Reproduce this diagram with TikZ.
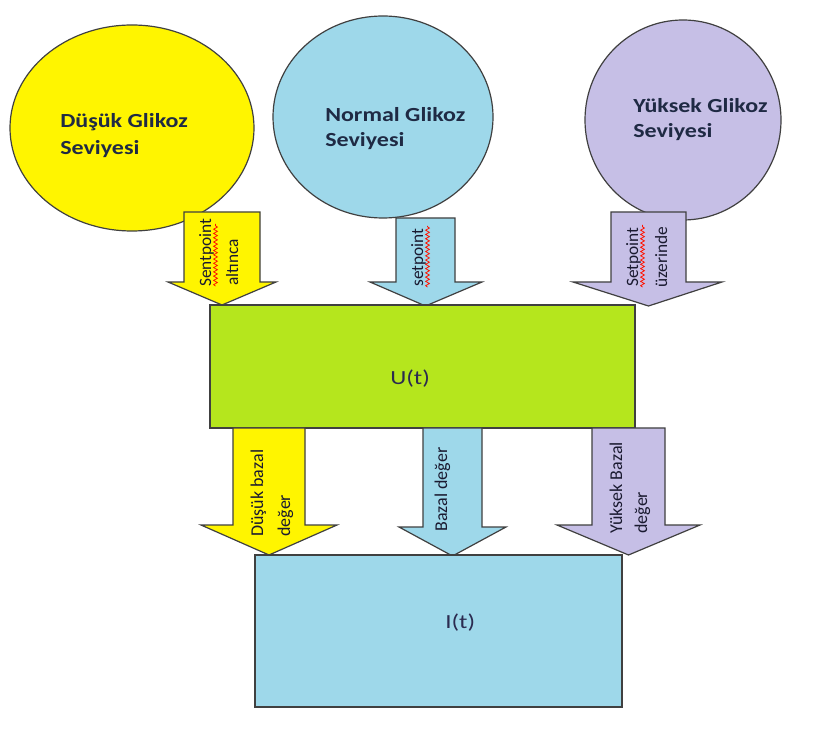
\documentclass[tikz,border=0pt]{standalone}
\usepackage{fontspec}
\usepackage{graphicx}
\setmainfont{Carlito}
\usetikzlibrary{decorations.pathmorphing}
\definecolor{cyel}{HTML}{FFF500}
\definecolor{cblue}{HTML}{9ED8EA}
\definecolor{clav}{HTML}{C6BFE6}
\definecolor{cgreen}{HTML}{B5E61D}
\definecolor{cline}{HTML}{404040}
\definecolor{ctxt}{HTML}{1F2A44}
\definecolor{atxt}{HTML}{1A1A30}
\definecolor{btxt}{HTML}{2B2B50}
\newcommand\blkarrow[8]{%
  \filldraw[blk, fill=#1] (#2,#4) -- (#3,#4) -- (#3,#5) -- (#7,#5) -- ({(#2+#3)/2},#8) -- (#6,#5) -- (#2,#5) -- cycle;}
\begin{document}
\begin{tikzpicture}[x=0.75pt, y=-0.75pt,
  blk/.style={draw=cline, line width=0.9pt, line join=miter},
  ctext/.style={font=\fontsize{15}{18}\selectfont\bfseries, text=ctxt, inner sep=0pt, anchor=base west},
  atext/.style={font=\fontsize{13}{15}\selectfont, text=atxt, inner sep=0pt, anchor=base west, rotate=90},
  abtext/.style={atext, font=\fontsize{13.5}{15}\selectfont},
  btext/.style={font=\fontsize{15}{18}\selectfont, text=btxt, inner sep=0pt, anchor=base west},
  squig/.style={draw=red!85!orange, line width=0.6pt, decorate, decoration={snake, amplitude=1.4pt, segment length=3.2pt}}]
\useasboundingbox (0,0) rectangle (817,737);
\fill[white] (0,0) rectangle (817,737);
% glucose level ellipses
\filldraw[blk, fill=cyel] (132,128) ellipse [x radius=122, y radius=103];
\filldraw[blk, fill=cblue] (383,117) ellipse [x radius=110, y radius=101];
\filldraw[blk, fill=clav] (683,120) ellipse [x radius=98, y radius=100];
% top arrows
\blkarrow{cyel}{184}{260}{212}{282}{168}{276}{305}
\blkarrow{cblue}{396}{455}{218}{282}{370}{482}{306}
\blkarrow{clav}{611}{686}{212}{282}{573}{722}{306}
% U(t) box
\filldraw[blk, fill=cgreen] (210,305) rectangle (635,428);
% bottom arrows
\blkarrow{cyel}{233}{305}{428}{525}{201}{337}{555}
\blkarrow{cblue}{423}{482}{428}{527}{399}{506}{556}
\blkarrow{clav}{592}{665}{428}{525}{557}{700}{555}
% I(t) box
\filldraw[blk, fill=cblue] (255,555) rectangle (622,707);
% circle texts
\node[ctext] (d1) at (60,128) {\scalebox{1.2}[1]{Düşük Glikoz}};
\node[ctext] (d2) at (60,155) {\scalebox{1.2}[1]{Seviyesi}};
\node[ctext] (n1) at (325,122) {\scalebox{1.2}[1]{Normal Glikoz}};
\node[ctext] (n2) at (325,147) {\scalebox{1.2}[1]{Seviyesi}};
\node[ctext] (y1) at (633,113) {\scalebox{1.2}[1]{Yüksek Glikoz}};
\node[ctext] (y2) at (633,138) {\scalebox{1.2}[1]{Seviyesi}};
% top arrow texts
\node[atext] (a1) at (211,287) {Sentpoint};
\node[atext] (a2) at (238,286) {altınca};
\node[atext] (a3) at (423,287) {setpoint};
\node[atext] (a4) at (638,287) {Setpoint};
\node[atext] (a5) at (667,288) {üzerinde};
% spelling squiggles
\draw[squig] (215.5,286) -- (215.5,224);
\draw[squig] (427.5,287) -- (427.5,226);
\draw[squig] (642.5,287) -- (642.5,225);
% bottom arrow texts
\node[abtext] (b1) at (263,537) {Düşük bazal};
\node[abtext] (b2) at (290,537) {değer};
\node[abtext] (b3) at (447,532) {Bazal değer};
\node[abtext] (b4) at (622,534) {Yüksek Bazal};
\node[abtext] (b5) at (647,534) {değer};
% box labels
\node[btext] (u) at (390,385) {\scalebox{1.25}[1]{U(t)}};
\node[btext] (i) at (445,628) {\scalebox{1.25}[1]{I(t)}};
\end{tikzpicture}
\end{document}
